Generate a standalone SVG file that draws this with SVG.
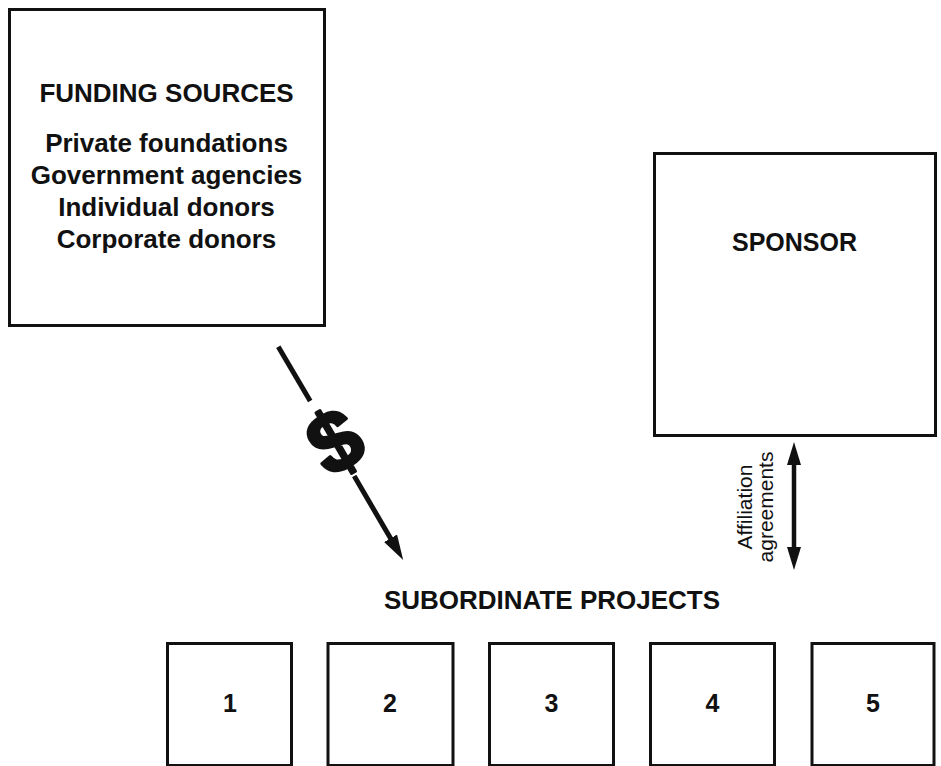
<svg xmlns="http://www.w3.org/2000/svg" width="941" height="766" viewBox="0 0 941 766">
<style>
.box{fill:none;stroke:#111;stroke-width:3}
.t{font-family:"Liberation Sans",Arial,Helvetica,sans-serif;font-weight:bold;fill:#111;text-anchor:middle}
.r{font-family:"Liberation Sans",Arial,Helvetica,sans-serif;fill:#111;text-anchor:middle;font-size:21px}
.ln{stroke:#111;fill:none}
</style>
<defs>
<marker id="headBig" markerUnits="userSpaceOnUse" markerWidth="26" markerHeight="16" refX="8" refY="7.5" orient="auto">
<path d="M0,0 L25,7.5 L0,15 z" fill="#111"/>
</marker>
<marker id="headSmall" markerUnits="userSpaceOnUse" markerWidth="24" markerHeight="15" refX="10" refY="7" orient="auto-start-reverse">
<path d="M0,0 L23,7 L0,14 z" fill="#111"/>
</marker>
</defs>
<rect width="941" height="766" fill="#fff"/>
<g id="funding-sources">
<rect class="box" x="9.5" y="9.5" width="315" height="316"/>
<text class="t" x="166.5" y="102" font-size="26">FUNDING SOURCES</text>
<text class="t" x="166.5" y="152" font-size="26">Private foundations</text>
<text class="t" x="166.5" y="184" font-size="26">Government agencies</text>
<text class="t" x="166.5" y="216" font-size="26">Individual donors</text>
<text class="t" x="166.5" y="248" font-size="26">Corporate donors</text>
</g>
<g id="sponsor">
<rect class="box" x="654.5" y="153.5" width="281" height="282"/>
<text class="t" x="794.5" y="251" font-size="25">SPONSOR</text>
</g>
<g id="subordinate-projects-label">
<text class="t" x="552" y="609" font-size="26">SUBORDINATE PROJECTS</text>
</g>
<g id="project-1">
<rect class="box" x="167.5" y="643.5" width="124" height="122"/>
<text class="t" x="230" y="712" font-size="25">1</text>
</g>
<g id="project-2">
<rect class="box" x="328" y="643.5" width="125" height="122"/>
<text class="t" x="390" y="712" font-size="25">2</text>
</g>
<g id="project-3">
<rect class="box" x="489.5" y="643.5" width="124" height="122"/>
<text class="t" x="551.5" y="712" font-size="25">3</text>
</g>
<g id="project-4">
<rect class="box" x="650.5" y="643.5" width="124" height="122"/>
<text class="t" x="712.5" y="712" font-size="25">4</text>
</g>
<g id="project-5">
<rect class="box" x="812" y="643.5" width="122" height="122"/>
<text class="t" x="873" y="712" font-size="25">5</text>
</g>
<g id="connectors">
<line class="ln" stroke-width="5" x1="278.3" y1="346.7" x2="310.2" y2="401.1"/>
<line class="ln" stroke-width="5" x1="354.2" y1="476.1" x2="394.6" y2="545.2" marker-end="url(#headBig)"/>
<text class="t" transform="translate(335,441) rotate(-30.4)" x="0" y="30" font-size="86" stroke="#111" stroke-width="3" stroke-linejoin="round">$</text>
<line class="ln" stroke-width="4.5" x1="794" y1="455" x2="794" y2="557" marker-start="url(#headSmall)" marker-end="url(#headSmall)"/>
<text class="r" transform="translate(752,507) rotate(-90)" x="0" y="0">Affiliation</text>
<text class="r" transform="translate(773,507) rotate(-90)" x="0" y="0">agreements</text>
</g>
</svg>
